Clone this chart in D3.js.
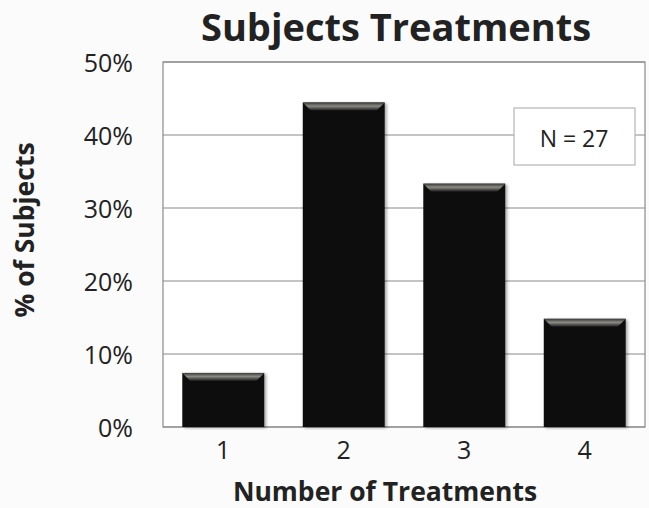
<!DOCTYPE html>
<html>
<head>
<meta charset="utf-8">
<script src="https://cdn.jsdelivr.net/npm/d3@7"></script>
<style>
  html, body { margin: 0; padding: 0; background: #fbfbfb; }
  svg { display: block; }
  text { font-family: "Open Sans", Lato, sans-serif; fill: #222; }
</style>
</head>
<body>
<svg id="chart" width="649" height="508"></svg>
<script>
// Distribution of subjects by number of treatments received (N = 27)
const categories = ["1", "2", "3", "4"];
const subjectCounts = [2, 12, 9, 4];
const totalSubjects = 27;
const percentValues = subjectCounts.map(c => c / totalSubjects);
const yTicks = [0, 0.1, 0.2, 0.3, 0.4, 0.5];

const svg = d3.select("#chart");
const margin = { top: 62, right: 4, bottom: 81, left: 163 };
const W = 649, H = 508;
const innerW = W - margin.left - margin.right;
const innerH = H - margin.top - margin.bottom;

const x = d3.scaleBand().domain(categories).range([0, innerW]).paddingInner(0.32).paddingOuter(0.16);
const y = d3.scaleLinear().domain([0, 0.5]).range([innerH, 0]);

const defs = svg.append("defs");
const bevel = defs.append("linearGradient").attr("id", "bevel").attr("x1", 0).attr("y1", 0).attr("x2", 0).attr("y2", 1);
bevel.append("stop").attr("offset", "0%").attr("stop-color", "#3a3a38");
bevel.append("stop").attr("offset", "45%").attr("stop-color", "#8c8a84");
bevel.append("stop").attr("offset", "100%").attr("stop-color", "#1a1a1a");
const shadow = defs.append("filter").attr("id", "shadow").attr("x", "-10%").attr("y", "-10%").attr("width", "130%").attr("height", "130%");
shadow.append("feDropShadow").attr("dx", 2).attr("dy", 1).attr("stdDeviation", 1.5).attr("flood-color", "#000").attr("flood-opacity", 0.35);

const g = svg.append("g").attr("transform", `translate(${margin.left},${margin.top})`);

// Plot area background
g.append("rect").attr("width", innerW).attr("height", innerH).attr("fill", "#ffffff");

// Horizontal gridlines
g.append("g").selectAll("line").data(yTicks).join("line")
  .attr("x1", 0).attr("x2", innerW)
  .attr("y1", d => y(d)).attr("y2", d => y(d))
  .attr("stroke", "#8a8a8a").attr("stroke-width", 1.2);

// Plot border
g.append("rect").attr("width", innerW).attr("height", innerH)
  .attr("fill", "none").attr("stroke", "#8a8a8a").attr("stroke-width", 1.2);

// Bars
const bars = g.append("g").selectAll("g").data(categories).join("g");
bars.append("rect")
  .attr("x", (d) => x(d))
  .attr("y", (d, i) => y(percentValues[i]))
  .attr("width", x.bandwidth())
  .attr("height", (d, i) => innerH - y(percentValues[i]))
  .attr("fill", "#0e0f0d")
  .attr("filter", "url(#shadow)");
// Bevelled top edge of each bar
bars.append("path")
  .attr("d", (d, i) => {
    const x0 = x(d), x1 = x0 + x.bandwidth(), t = y(percentValues[i]), b = 8;
    return `M${x0},${t} L${x1},${t} L${x1 - b},${t + b} L${x0 + b},${t + b} Z`;
  })
  .attr("fill", "url(#bevel)");

// Y axis
const yAxis = g.append("g").call(d3.axisLeft(y).tickValues(yTicks).tickFormat(d3.format(".0%")).tickSize(0).tickPadding(30));
yAxis.select(".domain").remove();
yAxis.selectAll("text").style("font-size", "25px").attr("fill", "#222").attr("dy", "0.36em");

// X axis
const xAxis = g.append("g").attr("transform", `translate(0,${innerH})`)
  .call(d3.axisBottom(x).tickSize(0).tickPadding(14));
xAxis.select(".domain").remove();
xAxis.selectAll("text").style("font-size", "25px").attr("fill", "#222");

// N annotation box
const boxX = 514 - margin.left, boxY = 108 - margin.top;
g.append("rect").attr("x", boxX).attr("y", boxY).attr("width", 121).attr("height", 57)
  .attr("fill", "#ffffff").attr("stroke", "#b5b5b5").attr("stroke-width", 1.2);
g.append("text").attr("x", boxX + 60).attr("y", boxY + 39).attr("text-anchor", "middle")
  .style("font-size", "23px").text("N = " + totalSubjects);

// Titles
svg.append("text").attr("x", 396).attr("y", 41).attr("text-anchor", "middle")
  .style("font-size", "38px").style("font-weight", "bold").text("Subjects Treatments");
svg.append("text").attr("x", 385).attr("y", 501).attr("text-anchor", "middle")
  .style("font-size", "26.5px").style("font-weight", "bold").text("Number of Treatments");
svg.append("text").attr("transform", "translate(34,230) rotate(-90)").attr("text-anchor", "middle")
  .style("font-size", "26.5px").style("font-weight", "bold").text("% of Subjects");
</script>
</body>
</html>
